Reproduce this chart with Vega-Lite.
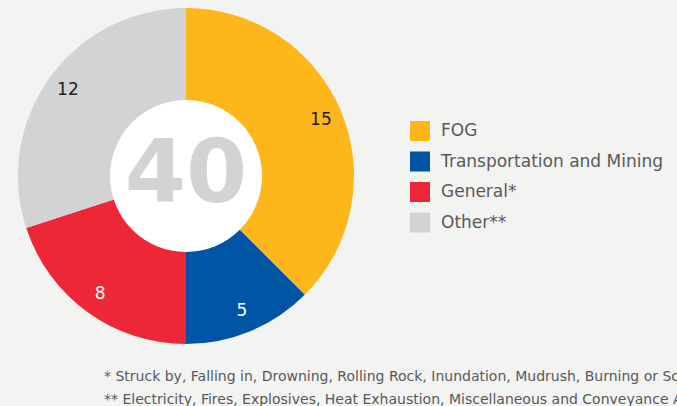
{
  "$schema": "https://vega.github.io/schema/vega-lite/v6.json",
  "width": 372,
  "height": 352,
  "padding": 0,
  "autosize": {"type": "pad"},
  "background": "#f3f3f2",
  "config": {"view": {"stroke": null}, "font": "DejaVu Sans"},
  "title": {
    "text": ["* Struck by, Falling in, Drowning, Rolling Rock, Inundation, Mudrush, Burning or Scalding", "** Electricity, Fires, Explosives, Heat Exhaustion, Miscellaneous and Conveyance Accidents"],
    "orient": "bottom",
    "anchor": "start",
    "dx": 104,
    "offset": 18,
    "fontSize": 14,
    "fontWeight": "normal",
    "color": "#58595b",
    "lineHeight": 23,
    "font": "DejaVu Sans"
  },
  "data": {
    "values": [
      {"category": "FOG", "count": 15, "k": 1},
      {"category": "Transportation and Mining", "count": 5, "k": 2},
      {"category": "General*", "count": 8, "k": 3},
      {"category": "Other**", "count": 12, "k": 4}
    ]
  },
  "layer": [
    {
      "mark": {"type": "arc", "outerRadius": 168, "innerRadius": 0},
      "encoding": {
        "theta": {"field": "count", "type": "quantitative", "stack": true},
        "order": {"field": "k", "type": "ordinal"},
        "color": {
          "field": "category",
          "type": "nominal",
          "sort": ["FOG", "Transportation and Mining", "General*", "Other**"],
          "scale": {
            "domain": ["FOG", "Transportation and Mining", "General*", "Other**"],
            "range": ["#fdb71a", "#0054a6", "#ee2737", "#d1d3d4"]
          },
          "legend": {
            "title": null,
            "orient": "none",
            "legendX": 410,
            "legendY": 121,
            "symbolType": "square",
            "symbolSize": 400,
            "symbolStrokeWidth": 0,
            "labelFontSize": 17,
            "labelColor": "#58595b",
            "labelFont": "DejaVu Sans",
            "labelOffset": 11,
            "rowPadding": 10.5,
            "labelLimit": 400
          }
        }
      }
    },
    {
      "mark": {"type": "text", "radius": 146, "fontSize": 17, "font": "DejaVu Sans"},
      "encoding": {
        "theta": {"field": "count", "type": "quantitative", "stack": true},
        "order": {"field": "k", "type": "ordinal"},
        "text": {"field": "count", "type": "quantitative"},
        "color": {
          "condition": {"test": "datum.category === 'FOG' || datum.category === 'Other**'", "value": "#231f20"},
          "value": "#ffffff"
        }
      }
    },
    {
      "data": {"values": [{"label": "40"}]},
      "mark": {"type": "point", "shape": "circle", "filled": true, "size": 23104, "color": "#ffffff", "opacity": 1},
      "encoding": {}
    },
    {
      "data": {"values": [{"label": "40"}]},
      "mark": {"type": "text", "fontSize": 88, "fontWeight": "bold", "font": "DejaVu Sans", "color": "#d1d3d4", "baseline": "middle"},
      "encoding": {"text": {"field": "label", "type": "nominal"}}
    }
  ]
}
